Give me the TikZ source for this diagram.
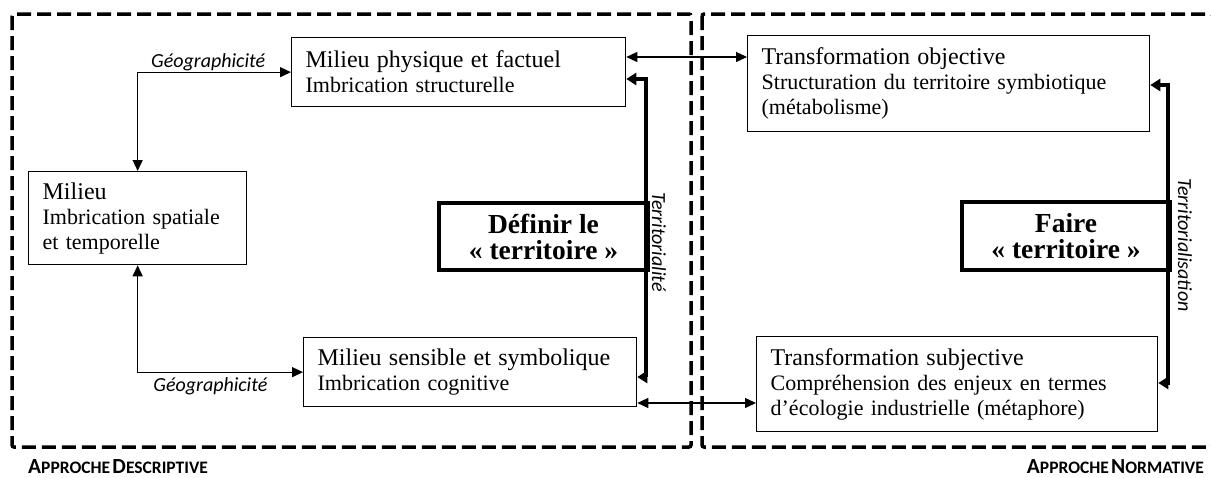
\documentclass[tikz,border=0pt]{standalone}
\usepackage{fontspec}
\setmainfont{Liberation Serif}
\newfontfamily\calib{Carlito}
\usetikzlibrary{arrows.meta}
\newcommand{\hd}[1]{{\fontsize{24}{25}\selectfont #1}}
\newcommand{\sctxt}[2]{{\fontsize{21.5}{22}\selectfont #1}{\fontsize{17.5}{22}\selectfont #2}}

\begin{document}
\begin{tikzpicture}
[x=1pt,y=-1pt,
zone/.style={draw,line width=3.5pt,dash pattern=on 14pt off 6pt,rounded corners=2pt},
milieu/.style={rectangle,draw,line width=1.3pt,anchor=north west,align=left,inner xsep=14pt,inner ysep=0pt,font=\fontsize{22}{25}\selectfont},
faire/.style={rectangle,draw,line width=4pt,anchor=north west,align=center,inner sep=0pt,font=\fontsize{27.5}{26}\selectfont\bfseries},
lbl/.style={font=\calib\itshape\fontsize{20}{22}\selectfont,inner sep=1pt},
appr/.style={font=\calib\bfseries,inner sep=0pt},
lien/.style={line width=1.3pt,{Triangle[length=11pt,width=10pt]}-{Triangle[length=11pt,width=10pt]}},
terr/.style={line width=3.5pt,{Triangle[length=10pt,width=12pt]}-{Triangle[length=10pt,width=12pt]}}]

\useasboundingbox (0,0) rectangle (1211,477);
\draw[zone] (12,14) rectangle (691,447);
\draw[zone] (702,14) rectangle (1213,447);

\node at (291,37)  [milieu,text width=306pt,minimum height=69pt] (mpf)
  {\hd{Milieu physique et factuel}\\Imbrication structurelle};
\node at (28,171)  [milieu,text width=190pt,minimum height=93pt] (milieu)
  {\hd{Milieu}\\Imbrication spatiale\\et temporelle};
\node at (303,337) [milieu,text width=305pt,minimum height=69pt] (mss)
  {\hd{Milieu sensible et symbolique}\\Imbrication cognitive};
\node at (747,35)  [milieu,text width=374pt,minimum height=96pt] (to)
  {\hd{Transformation objective}\\Structuration du territoire symbiotique\\(métabolisme)};
\node at (756,336) [milieu,text width=373pt,minimum height=95pt] (ts)
  {\hd{Transformation subjective}\\Compréhension des enjeux en termes\\d’écologie industrielle (métaphore)};

\node at (437,201) [faire,minimum width=209pt,minimum height=67pt] (definir)
  {Définir le\\«~territoire~»};
\node at (960,200) [faire,minimum width=208pt,minimum height=68pt] (fairet)
  {Faire\\«~territoire~»};

\draw[lien] (milieu.north) |- (mpf.west)
  node[lbl,pos=0.73,above] (geoh) {Géographicité};
\draw[lien] (milieu.south) |- (mss.west)
  node[lbl,pos=0.72,below=4pt] (geob) {Géographicité};

\coordinate (hautlien) at (0,57);
\coordinate (baslien) at (0,403);
\draw[lien] (mpf.east |- hautlien) -- (to.west |- hautlien);
\draw[lien] (mss.east |- baslien) -- (ts.west |- baslien);

\coordinate (tN) at (646,79);
\coordinate (tS) at (646,377);
\draw[terr] (mpf.east |- tN) -- (tN) -- (tS) -- (mss.east |- tS);
\coordinate (fN) at (1168,85);
\coordinate (fS) at (1168,383);
\draw[terr] (to.east |- fN) -- (fN) -- (fS) -- (ts.east |- fS);

\node at (659,242)  [lbl,rotate=-90] (terrl) {Territorialité};
\node at (1185,245) [lbl,rotate=-90] (terrn) {Territorialisation};

\node at (28,473)   [appr,anchor=base west] (desc) {\sctxt{A}{PPROCHE} \sctxt{D}{ESCRIPTIVE}};
\node at (1204,473) [appr,anchor=base east] (norm) {\sctxt{A}{PPROCHE} \sctxt{N}{ORMATIVE}};
\end{tikzpicture}
\end{document}
